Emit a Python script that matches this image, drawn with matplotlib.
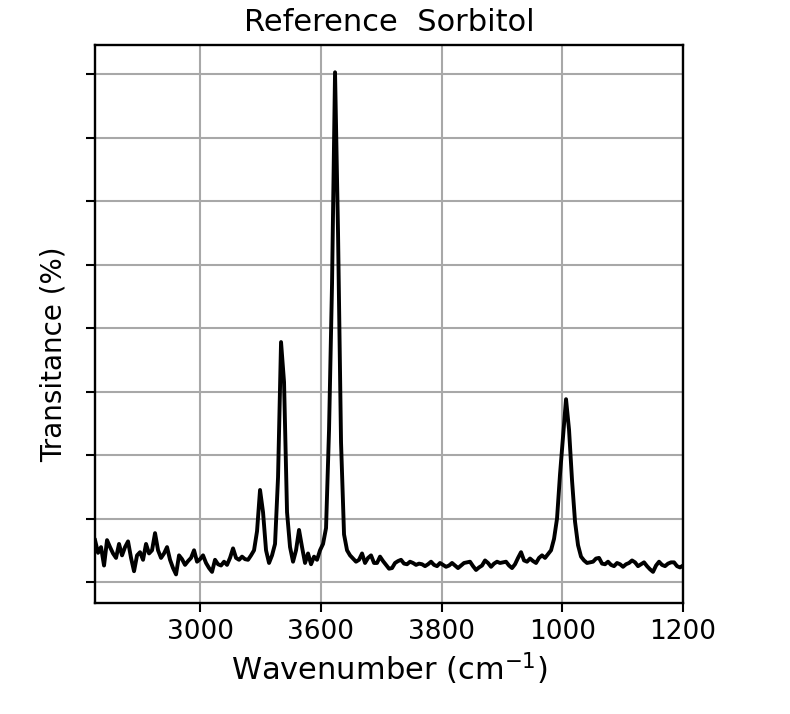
import numpy as np
import matplotlib
matplotlib.use("Agg")
import matplotlib.pyplot as plt

# --- Data ---

# tick positions along the axis and the labels printed under them
x_ticks = [0, 1, 2, 3, 4]
x_tick_labels = ['3000', '3600', '3800', '1000', '1200']

# spectrum samples (evenly spaced across the plotted range)
x_start, x_end = -0.87, 4.0
transitance = [
    0.66, 0.46, 0.55, 0.26, 0.66, 0.55, 0.45, 0.38, 0.60, 0.42,
    0.55, 0.64, 0.38, 0.17, 0.42, 0.47, 0.35, 0.60, 0.45, 0.50,
    0.77, 0.50, 0.38, 0.45, 0.55, 0.35, 0.22, 0.12, 0.42, 0.36,
    0.27, 0.33, 0.38, 0.50, 0.32, 0.36, 0.42, 0.30, 0.22, 0.16,
    0.35, 0.28, 0.26, 0.32, 0.27, 0.38, 0.53, 0.38, 0.35, 0.40,
    0.36, 0.35, 0.42, 0.50, 0.80, 1.45, 1.10, 0.50, 0.30, 0.42,
    0.60, 1.65, 3.78, 3.15, 1.10, 0.55, 0.32, 0.50, 0.82, 0.55,
    0.30, 0.45, 0.28, 0.40, 0.35, 0.50, 0.60, 0.85, 2.40, 4.70,
    8.03, 5.50, 2.20, 0.75, 0.50, 0.42, 0.37, 0.32, 0.35, 0.45,
    0.30, 0.38, 0.42, 0.30, 0.30, 0.40, 0.33, 0.27, 0.21, 0.22,
    0.30, 0.33, 0.35, 0.29, 0.28, 0.32, 0.30, 0.27, 0.29, 0.28,
    0.25, 0.28, 0.32, 0.27, 0.25, 0.30, 0.27, 0.24, 0.26, 0.30,
    0.26, 0.22, 0.26, 0.30, 0.31, 0.32, 0.25, 0.19, 0.23, 0.26,
    0.34, 0.30, 0.24, 0.29, 0.32, 0.30, 0.31, 0.32, 0.26, 0.22,
    0.28, 0.38, 0.47, 0.34, 0.32, 0.37, 0.33, 0.30, 0.38, 0.42,
    0.38, 0.44, 0.50, 0.68, 1.00, 1.70, 2.30, 2.88, 2.40, 1.60,
    0.95, 0.58, 0.40, 0.34, 0.30, 0.31, 0.32, 0.37, 0.38, 0.29,
    0.28, 0.32, 0.27, 0.25, 0.30, 0.28, 0.24, 0.28, 0.30, 0.34,
    0.31, 0.25, 0.28, 0.31, 0.25, 0.20, 0.16, 0.26, 0.32, 0.27,
    0.25, 0.29, 0.31, 0.31, 0.25, 0.23, 0.26,
]
wavenumber = np.linspace(x_start, x_end, len(transitance))

y_ticks = [0, 1, 2, 3, 4, 5, 6, 7, 8]

# --- Plot ---

fig = plt.figure(figsize=(7.9, 7.14), dpi=100)
ax = fig.add_axes([0.1203, 0.1555, 0.7443, 0.7815])

ax.plot(wavenumber, transitance, color='black', linewidth=2.8)

ax.set_xlim(x_start, x_end)
ax.set_ylim(-0.33, 8.46)
ax.set_xticks(x_ticks)
ax.set_xticklabels(x_tick_labels)
ax.set_yticks(y_ticks)
ax.set_yticklabels([])

ax.grid(True, color='#a8a8a8', linewidth=1.5)
ax.set_axisbelow(True)
for sp in ax.spines.values():
    sp.set_linewidth(1.7)
ax.tick_params(axis='both', length=6.5, width=1.5, labelsize=19, pad=5)

ax.set_title('Reference  Sorbitol', fontsize=22, pad=10)
ax.set_xlabel('Wavenumber (cm$^{-1}$)', fontsize=22, labelpad=4)
ax.set_ylabel('Transitance (%)', fontsize=20, labelpad=8, y=0.445)

fig.savefig('out.png', dpi=100)
